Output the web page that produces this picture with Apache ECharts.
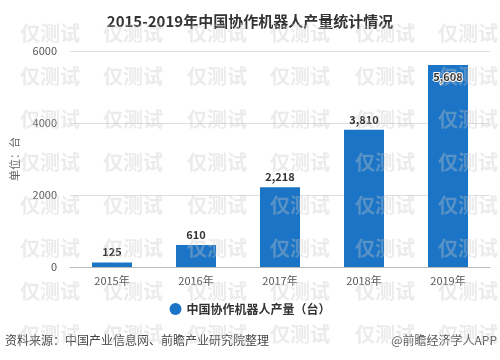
<!DOCTYPE html>
<html><head><meta charset="utf-8">
<script src="https://cdn.jsdelivr.net/npm/echarts@6/dist/echarts.min.js"></script>
<style>html,body{margin:0;padding:0;background:#fff}#c{width:500px;height:360px}</style>
</head><body><div id="c"></div>
<script>
const categories = ['2015年','2016年','2017年','2018年','2019年'];
const production = [125, 610, 2218, 3810, 5608];
const yTicks = [0, 2000, 4000, 6000];
const titleText = '2015-2019年中国协作机器人产量统计情况';
const seriesName = '中国协作机器人产量（台）';
const sourceText = '资料来源：中国产业信息网、前瞻产业研究院整理';
const brandText = '@前瞻经济学人APP';
const watermarkText = '仅测试';

const FONT = '"Noto Sans CJK SC", "Noto Sans", sans-serif';
const wmCols = [50, 133, 217, 300, 385, 468];
const wmRows = [33, 76, 119, 162, 205, 248, 291, 334];
const wm = [];
wmRows.forEach(y => wmCols.forEach(x => wm.push({
  type: 'text', x: x, y: y, z: 100, silent: true,
  style: { text: watermarkText, x: 0, y: 0, align: 'center', verticalAlign: 'middle',
    font: 'bold 20px ' + FONT, fill: 'rgba(200,200,200,0.36)' }
})));

const chart = echarts.init(document.getElementById('c'));
chart.setOption({
  animation: false,
  backgroundColor: '#fff',
  textStyle: { fontFamily: FONT },
  title: { text: titleText, left: 'center', top: 9,
    textStyle: { fontSize: 15, fontWeight: 'bold', color: '#333', fontFamily: FONT } },
  grid: { left: 70, right: 10, top: 51, bottom: 93 },
  legend: { bottom: 40, left: 'center', icon: 'circle', itemWidth: 12, itemHeight: 12,
    textStyle: { fontSize: 12, fontWeight: 'bold', color: '#333', fontFamily: FONT },
    data: [seriesName] },
  xAxis: { type: 'category', data: categories,
    axisLine: { lineStyle: { color: '#bbb' } },
    axisTick: { alignWithLabel: true, length: 4, lineStyle: { color: '#999' } },
    axisLabel: { color: '#555', fontSize: 11, margin: 8 } },
  yAxis: { type: 'value', min: yTicks[0], max: yTicks[yTicks.length - 1], interval: 2000,
    name: '单位：台', nameLocation: 'middle', nameGap: 50, nameRotate: 90,
    nameTextStyle: { color: '#666', fontSize: 11 },
    axisLine: { show: false }, axisTick: { show: false },
    axisLabel: { color: '#555', fontSize: 11, margin: 13, formatter: v => String(v) },
    splitLine: { lineStyle: { color: '#ddd' } } },
  series: [{
    name: seriesName, type: 'bar', barWidth: 40,
    itemStyle: { color: '#1b74c5' },
    label: { show: true, position: 'top', color: '#333', fontSize: 11, fontWeight: 'bold',
      formatter: p => p.value.toLocaleString('en-US') },
    data: production.map((v, i) => i === production.length - 1
      ? { value: v, label: { position: 'insideTop', distance: 6, color: '#333', textBorderColor: '#fff', textBorderWidth: 2 } }
      : v)
  }],
  graphic: wm.concat([
    { type: 'text', left: 5, top: 334, z: 50, style: { text: sourceText, font: '12px ' + FONT, fill: '#444' } },
    { type: 'text', right: 3, top: 334, z: 50, style: { text: brandText, font: '12px ' + FONT, fill: '#555' } }
  ])
});
</script></body></html>
